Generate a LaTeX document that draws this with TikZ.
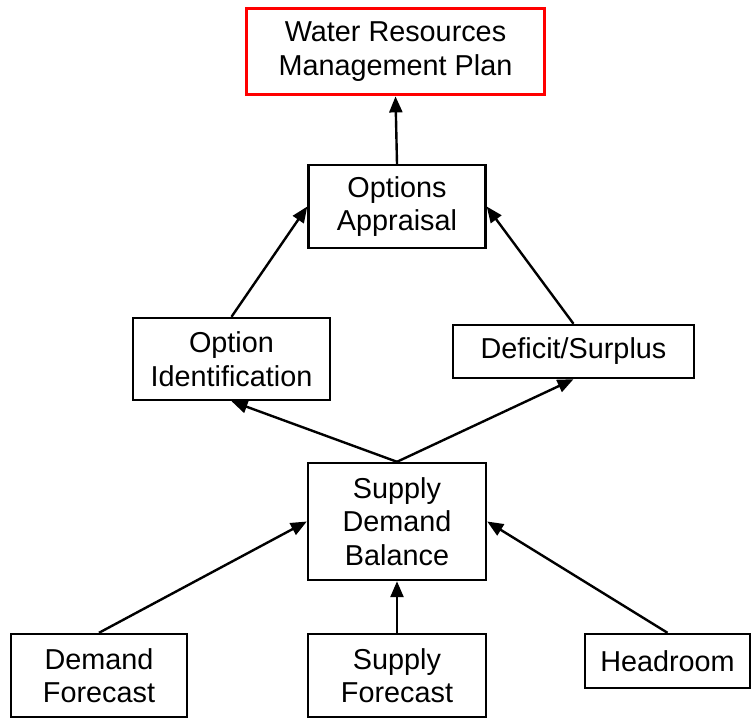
\documentclass[tikz,border=0pt]{standalone}
\usepackage{fontspec}
\setmainfont{Liberation Sans}
\usetikzlibrary{arrows.meta}
\begin{document}
\begin{tikzpicture}[x=1pt,y=-1pt,
  box/.style={draw=black,line width=2.4pt,fill=white,inner sep=0pt,align=center,
    font=\fontsize{28.8}{33.5}\selectfont},
  arr/.style={line width=2.4pt,-{Triangle[length=16pt,width=13pt]}}]
\useasboundingbox (0,0) rectangle (756,722);
\node[box,draw=red,line width=3.8pt,minimum width=298pt,minimum height=86pt] (wrmp) at (395.5,51.5) {Water Resources\\Management Plan};
\node[box,minimum width=177pt,minimum height=83pt] (oa) at (397,206.5) {Options\\Appraisal};
\node[box,minimum width=197pt,minimum height=82pt] (oi) at (231.5,359) {Option\\Identification};
\node[box,minimum width=241pt,minimum height=53pt] (ds) at (573.5,351.5) {Deficit/Surplus};
\node[box,minimum width=178pt,minimum height=117pt] (sdb) at (397,521.5) {Supply\\Demand\\Balance};
\node[box,minimum width=176pt,minimum height=83pt] (df) at (99,675.5) {Demand\\Forecast};
\node[box,minimum width=178pt,minimum height=83pt] (sf) at (397,675.5) {Supply\\Forecast};
\node[box,minimum width=165pt,minimum height=54pt] (hr) at (667.5,661) {Headroom};
\draw[arr] (oa.north) -- (wrmp.south);
\draw[arr] (oi.north) -- (oa.west);
\draw[arr] (ds.north) -- (oa.east);
\draw[arr] (sdb.north) -- (oi.south);
\draw[arr] (sdb.north) -- (ds.south);
\draw[arr] (df.north) -- (sdb.west);
\draw[arr] (sf.north) -- (sdb.south);
\draw[arr] (hr.north) -- (sdb.east);
\end{tikzpicture}
\end{document}
